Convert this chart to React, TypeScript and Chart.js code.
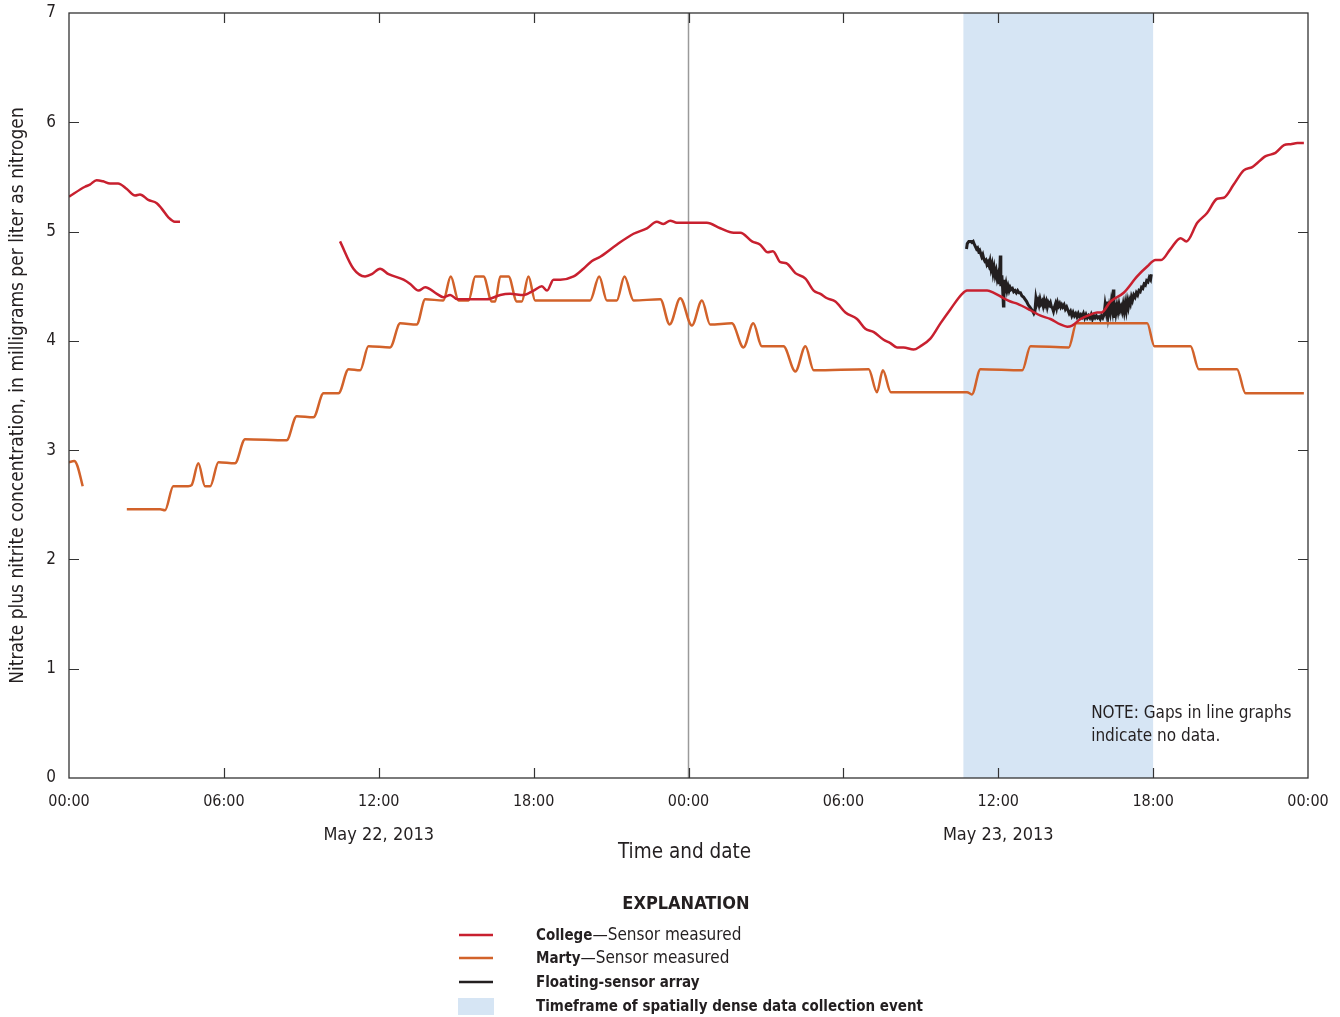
import React, { useEffect, useRef } from "react";
import { Chart, registerables } from "chart.js";
Chart.register(...registerables);

const FONT = '"Liberation Sans Narrow", "DejaVu Sans Condensed", "Liberation Sans", sans-serif';

// ---- axis / annotation values ----
const xTickHours = [0, 6, 12, 18, 24, 30, 36, 42, 48];
const yTickValues = [0, 1, 2, 3, 4, 5, 6, 7];
const dateLabels = ["May 22, 2013", "May 23, 2013"];
const dateLabelHours = [12, 36];
const bandStartHour = 34.65;
const bandEndHour = 42.0;
const midnightHour = 24;

// ---- College (sensor measured) ----
const collegeHours = [
  0.0, 0.62, 0.81, 1.07, 1.32, 1.59, 1.9, 2.24, 2.56, 2.75, 3.07, 3.4, 3.59, 3.85, 4.1, 4.3,
  7.0,
  10.5, 11.02, 11.47, 11.73, 12.05, 12.38, 12.96, 13.22, 13.54, 13.8, 14.25, 14.5, 14.77, 15.05, 16.19,
  16.71, 17.09, 17.61, 18.0, 18.32, 18.52, 18.77, 19.03, 19.55, 19.93, 20.26, 20.58, 21.22, 21.87, 22.39,
  22.77, 23.03, 23.29, 23.55, 24.71, 25.23, 25.75, 26.01, 26.46, 26.78, 27.07, 27.27, 27.56, 27.79, 28.14,
  28.53, 28.85, 29.11, 29.37, 29.69, 30.08, 30.53, 30.85, 31.18, 31.56, 31.82, 32.08, 32.33, 32.72, 32.98,
  33.37, 33.76, 34.15, 34.6, 34.79, 35.57, 35.83, 36.21, 36.47, 36.73, 37.25, 37.64, 38.02, 38.41, 38.67,
  38.86, 39.19, 39.57, 39.83, 40.0, 40.35, 40.86, 41.38, 41.77, 42.09, 42.31, 42.67, 43.06, 43.29, 43.71,
  44.09, 44.48, 44.74, 45.12, 45.51, 45.84, 46.36, 46.74, 47.07, 47.33, 47.59, 47.84,
];
const collegeValues = [
  5.32, 5.41, 5.43, 5.47, 5.46, 5.44, 5.44, 5.39, 5.33, 5.34, 5.29, 5.26, 5.21, 5.13, 5.09, 5.09,
  null,
  4.91, 4.66, 4.59, 4.61, 4.66, 4.61, 4.56, 4.52, 4.46, 4.49, 4.43, 4.4, 4.42, 4.38, 4.38,
  4.42, 4.43, 4.42, 4.46, 4.5, 4.46, 4.56, 4.56, 4.59, 4.66, 4.73, 4.77, 4.88, 4.98, 5.03,
  5.09, 5.07, 5.1, 5.08, 5.08, 5.03, 4.99, 4.99, 4.91, 4.88, 4.81, 4.82, 4.72, 4.71, 4.62,
  4.57, 4.46, 4.43, 4.39, 4.36, 4.26, 4.2, 4.11, 4.08, 4.01, 3.98, 3.94, 3.94, 3.92, 3.95,
  4.02, 4.16, 4.29, 4.43, 4.46, 4.46, 4.44, 4.39, 4.36, 4.34, 4.28, 4.23, 4.2, 4.15, 4.13,
  4.14, 4.2, 4.24, 4.26, 4.26, 4.36, 4.44, 4.59, 4.68, 4.74, 4.74, 4.84, 4.94, 4.91, 5.08,
  5.17, 5.3, 5.31, 5.43, 5.56, 5.59, 5.69, 5.72, 5.79, 5.8, 5.81, 5.81,
];

// ---- Marty (sensor measured) ----
const martyHours = [
  0.0, 0.2, 0.32, 0.53,
  1.5,
  2.24, 3.53, 3.72, 4.04, 4.62, 4.75, 5.01, 5.27, 5.47, 5.79, 6.43, 6.82, 8.43, 8.82, 9.47, 9.86, 10.44,
  10.83, 11.28, 11.6, 12.44, 12.83, 13.47, 13.8, 14.5, 14.79, 15.09, 15.48, 15.74, 16.06, 16.38, 16.51,
  16.71, 17.03, 17.35, 17.54, 17.8, 18.06, 20.19, 20.54, 20.84, 21.22, 21.52, 21.87, 22.91, 23.27, 23.68,
  24.13, 24.52, 24.84, 25.68, 26.13, 26.51, 26.84, 27.68, 28.14, 28.53, 28.85, 30.98, 31.3, 31.53, 31.84,
  34.79, 34.98, 35.31, 36.93, 37.25, 38.73, 39.03, 41.77, 42.05, 43.45, 43.77, 45.25, 45.58, 47.84,
];
const martyValues = [
  2.89, 2.9, 2.86, 2.67,
  null,
  2.46, 2.46, 2.45, 2.67, 2.67, 2.68, 2.88, 2.67, 2.67, 2.89, 2.88, 3.1, 3.09, 3.31, 3.3, 3.52, 3.52,
  3.74, 3.73, 3.95, 3.94, 4.16, 4.15, 4.38, 4.37, 4.59, 4.37, 4.37, 4.59, 4.59, 4.36, 4.36,
  4.59, 4.59, 4.36, 4.36, 4.59, 4.37, 4.37, 4.59, 4.37, 4.37, 4.59, 4.37, 4.38, 4.15, 4.39,
  4.14, 4.37, 4.15, 4.16, 3.94, 4.16, 3.95, 3.95, 3.72, 3.95, 3.73, 3.74, 3.53, 3.73, 3.53,
  3.53, 3.51, 3.74, 3.73, 3.95, 3.94, 4.16, 4.16, 3.95, 3.95, 3.74, 3.74, 3.52, 3.52,
];

// ---- Floating-sensor array ----
const floatHours = [
  34.77, 34.8, 34.86, 34.93, 34.98, 35.03, 35.08, 35.12, 35.16, 35.2, 35.24, 35.28, 35.32, 35.36, 35.4,
  35.44, 35.48, 35.52, 35.56, 35.6, 35.64, 35.68, 35.72, 35.76, 35.8, 35.84, 35.88, 35.92, 35.96, 36.0,
  36.04, 36.08, 36.1, 36.14, 36.17, 36.2, 36.22, 36.26, 36.3, 36.34, 36.38, 36.42, 36.46, 36.5, 36.55,
  36.6, 36.65, 36.7, 36.75, 36.8, 36.86, 36.92, 36.98, 37.04, 37.1, 37.16, 37.22, 37.28, 37.34, 37.38,
  37.42, 37.46, 37.5, 37.54, 37.58, 37.62, 37.66, 37.7, 37.74, 37.78, 37.82, 37.86, 37.9, 37.94, 37.98,
  38.02, 38.06, 38.1, 38.14, 38.18, 38.22, 38.26, 38.3, 38.34, 38.38, 38.42, 38.46, 38.5, 38.55, 38.6,
  38.65, 38.7, 38.75, 38.8, 38.85, 38.9, 38.95, 39.0, 39.05, 39.1, 39.15, 39.2, 39.25, 39.3, 39.35,
  39.4, 39.45, 39.5, 39.55, 39.6, 39.65, 39.7, 39.75, 39.8, 39.85, 39.9, 39.95, 40.0, 40.05, 40.1,
  40.14, 40.18, 40.22, 40.26, 40.3, 40.34, 40.38, 40.42, 40.46, 40.48, 40.52, 40.56, 40.6, 40.64, 40.68,
  40.72, 40.76, 40.8, 40.84, 40.88, 40.92, 40.96, 41.0, 41.04, 41.08, 41.12, 41.16, 41.2, 41.25, 41.3,
  41.35, 41.4, 41.45, 41.5, 41.55, 41.6, 41.65, 41.7, 41.75, 41.8, 41.85, 41.9, 41.93,
];
const floatValues = [
  4.84, 4.89, 4.91, 4.91, 4.9, 4.91, 4.88, 4.86, 4.84, 4.85, 4.82, 4.83, 4.8, 4.77, 4.79,
  4.75, 4.73, 4.74, 4.7, 4.72, 4.69, 4.73, 4.66, 4.7, 4.62, 4.67, 4.6, 4.64, 4.57, 4.61,
  4.52, 4.78, 4.5, 4.6, 4.48, 4.32, 4.56, 4.47, 4.52, 4.46, 4.5, 4.46, 4.49, 4.47, 4.48,
  4.45, 4.46, 4.44, 4.46, 4.44, 4.44, 4.41, 4.4, 4.38, 4.36, 4.33, 4.31, 4.29, 4.27, 4.25,
  4.27, 4.39, 4.34, 4.37, 4.33, 4.38, 4.34, 4.36, 4.32, 4.37, 4.33, 4.36, 4.31, 4.35, 4.33,
  4.35, 4.31, 4.3, 4.27, 4.31, 4.34, 4.3, 4.35, 4.32, 4.34, 4.31, 4.33, 4.31, 4.33, 4.29,
  4.31, 4.28, 4.25, 4.27, 4.23, 4.26, 4.23, 4.25, 4.22, 4.25, 4.22, 4.24, 4.22, 4.25, 4.21,
  4.24, 4.21, 4.23, 4.21, 4.24, 4.2, 4.23, 4.21, 4.23, 4.21, 4.22, 4.2, 4.23, 4.21, 4.24,
  4.33, 4.27, 4.36, 4.24, 4.31, 4.26, 4.35, 4.29, 4.47, 4.21, 4.35, 4.26, 4.32, 4.27, 4.33,
  4.28, 4.31, 4.27, 4.33, 4.27, 4.34, 4.28, 4.36, 4.31, 4.37, 4.34, 4.4, 4.37, 4.42, 4.4,
  4.44, 4.42, 4.46, 4.45, 4.49, 4.48, 4.52, 4.51, 4.55, 4.54, 4.58, 4.56, 4.61,
];

const COLLEGE = "#c8202f";
const MARTY = "#d2622a";
const FLOAT = "#231f20";
const BAND = "#d6e5f4";
const TEXT = "#231f20";

const toPoints = (hs: number[], vs: (number | null)[]) => hs.map((h, i) => ({ x: h, y: vs[i] }));

const pad2 = (n: number) => (n < 10 ? "0" + n : "" + n);

const decorPlugin = {
  id: "decor",
  beforeDatasetsDraw(chart: any) {
    const { ctx, chartArea: a, scales } = chart;
    const xs = scales.x;
    ctx.save();
    const x1 = xs.getPixelForValue(bandStartHour);
    const x2 = xs.getPixelForValue(bandEndHour);
    ctx.fillStyle = BAND;
    ctx.fillRect(x1, a.top, x2 - x1, a.bottom - a.top);
    const xm = xs.getPixelForValue(midnightHour);
    ctx.strokeStyle = "#9a9a9a";
    ctx.lineWidth = 1.5;
    ctx.beginPath();
    ctx.moveTo(xm, a.top);
    ctx.lineTo(xm, a.bottom);
    ctx.stroke();
    ctx.restore();
  },
  afterDatasetsDraw(chart: any) {
    const { ctx, chartArea: a, scales } = chart;
    const xs = scales.x;
    const ys = scales.y;
    ctx.save();
    ctx.strokeStyle = "#333";
    ctx.lineWidth = 1.3;
    ctx.strokeRect(a.left, a.top, a.right - a.left, a.bottom - a.top);
    ctx.lineWidth = 1.2;
    ctx.beginPath();
    const tl = 10;
    xTickHours.forEach((h) => {
      if (h === 0 || h === 48) return;
      const px = Math.round(xs.getPixelForValue(h)) + 0.5;
      ctx.moveTo(px, a.bottom);
      ctx.lineTo(px, a.bottom - tl);
      ctx.moveTo(px, a.top);
      ctx.lineTo(px, a.top + tl);
    });
    yTickValues.forEach((v) => {
      if (v === 0 || v === 7) return;
      const py = Math.round(ys.getPixelForValue(v)) + 0.5;
      ctx.moveTo(a.left, py);
      ctx.lineTo(a.left + tl, py);
      ctx.moveTo(a.right, py);
      ctx.lineTo(a.right - tl, py);
    });
    ctx.stroke();
    // note
    ctx.fillStyle = TEXT;
    ctx.font = `17px ${FONT}`;
    ctx.textAlign = "left";
    ctx.textBaseline = "middle";
    const nx = xs.getPixelForValue(39.6);
    ctx.fillText("NOTE: Gaps in line graphs", nx, ys.getPixelForValue(0.6) + 1);
    ctx.fillText("indicate no data.", nx, ys.getPixelForValue(0.39) + 1);
    ctx.restore();
  },
  afterDraw(chart: any) {
    const { ctx, chartArea: a, scales } = chart;
    const xs = scales.x;
    ctx.save();
    ctx.fillStyle = TEXT;
    ctx.textAlign = "center";
    ctx.textBaseline = "middle";
    ctx.font = `18px ${FONT}`;
    dateLabels.forEach((t, i) => {
      ctx.fillText(t, xs.getPixelForValue(dateLabelHours[i]), a.bottom + 57);
    });
    ctx.font = `20.5px ${FONT}`;
    ctx.fillText("Time and date", (a.left + a.right) / 2 - 4, a.bottom + 75);
    ctx.font = `bold 18px ${FONT}`;
    ctx.fillText("EXPLANATION", 686, 904);

    const items = [
      { kind: "line", color: COLLEGE, bold: "College", rest: "\u2014Sensor measured", y: 935 },
      { kind: "line", color: MARTY, bold: "Marty", rest: "\u2014Sensor measured", y: 958 },
      { kind: "line", color: FLOAT, bold: "Floating-sensor array", rest: "", y: 982 },
      { kind: "box", color: BAND, bold: "Timeframe of spatially dense data collection event", rest: "", y: 1006 },
    ];
    ctx.textAlign = "left";
    items.forEach((it) => {
      if (it.kind === "line") {
        ctx.strokeStyle = it.color;
        ctx.lineWidth = 2.5;
        ctx.beginPath();
        ctx.moveTo(459, it.y);
        ctx.lineTo(493, it.y);
        ctx.stroke();
      } else {
        ctx.fillStyle = it.color;
        ctx.fillRect(458, it.y - 8, 36, 17);
      }
      ctx.fillStyle = TEXT;
      ctx.font = `bold 15px ${FONT}`;
      ctx.fillText(it.bold, 536, it.y + 1);
      const w = ctx.measureText(it.bold).width;
      if (it.rest) {
        ctx.font = `17px ${FONT}`;
        ctx.fillText(it.rest, 536 + w, it.y + 1);
      }
    });
    ctx.restore();
  },
};

export default function App() {
  const ref = useRef<HTMLCanvasElement | null>(null);
  useEffect(() => {
    if (!ref.current) return;
    const chart = new Chart(ref.current, {
      type: "line",
      data: {
        datasets: [
          {
            label: "College",
            data: toPoints(collegeHours, collegeValues),
            borderColor: COLLEGE,
            borderWidth: 2.5,
            pointRadius: 0,
            cubicInterpolationMode: "monotone",
            spanGaps: false,
          },
          {
            label: "Marty",
            data: toPoints(martyHours, martyValues),
            borderColor: MARTY,
            borderWidth: 2.5,
            pointRadius: 0,
            cubicInterpolationMode: "monotone",
            spanGaps: false,
          },
          {
            label: "Floating-sensor array",
            data: toPoints(floatHours, floatValues),
            borderColor: FLOAT,
            borderWidth: 3,
            pointRadius: 0,
            tension: 0,
          },
        ],
      },
      options: {
        animation: false,
        responsive: true,
        maintainAspectRatio: false,
        layout: { padding: { left: 0, right: 32, top: 13, bottom: 0 } },
        plugins: { legend: { display: false }, tooltip: { enabled: false } },
        scales: {
          x: {
            type: "linear",
            min: 0,
            max: 48,
            afterBuildTicks: (s: any) => {
              s.ticks = xTickHours.map((v) => ({ value: v }));
            },
            afterFit: (s: any) => {
              s.height = 239;
              s.paddingLeft = 0;
              s.paddingRight = 0;
            },
            grid: { display: false, drawTicks: false },
            border: { display: false },
            ticks: {
              padding: 14,
              maxRotation: 0,
              autoSkip: false,
              color: TEXT,
              font: { family: FONT, size: 16 },
              callback: (v: any) => pad2(Number(v) % 24) + ":00",
            },
          },
          y: {
            type: "linear",
            min: 0,
            max: 7,
            afterBuildTicks: (s: any) => {
              s.ticks = yTickValues.map((v) => ({ value: v }));
            },
            afterFit: (s: any) => {
              s.width = 69;
              s.paddingTop = 0;
              s.paddingBottom = 0;
            },
            grid: { display: false, drawTicks: false },
            border: { display: false },
            ticks: {
              padding: 13,
              color: TEXT,
              font: { family: FONT, size: 17 },
            },
            title: {
              display: true,
              text: "Nitrate plus nitrite concentration, in milligrams per liter as nitrogen",
              color: TEXT,
              font: { family: FONT, size: 19 },
              padding: { top: 7, bottom: 0 },
            },
          },
        },
      } as any,
      plugins: [decorPlugin],
    });
    return () => chart.destroy();
  }, []);
  return (
    <div style={{ position: "absolute", left: 0, top: 0, width: 1340, height: 1017, background: "#fff" }}>
      <canvas ref={ref} />
    </div>
  );
}
